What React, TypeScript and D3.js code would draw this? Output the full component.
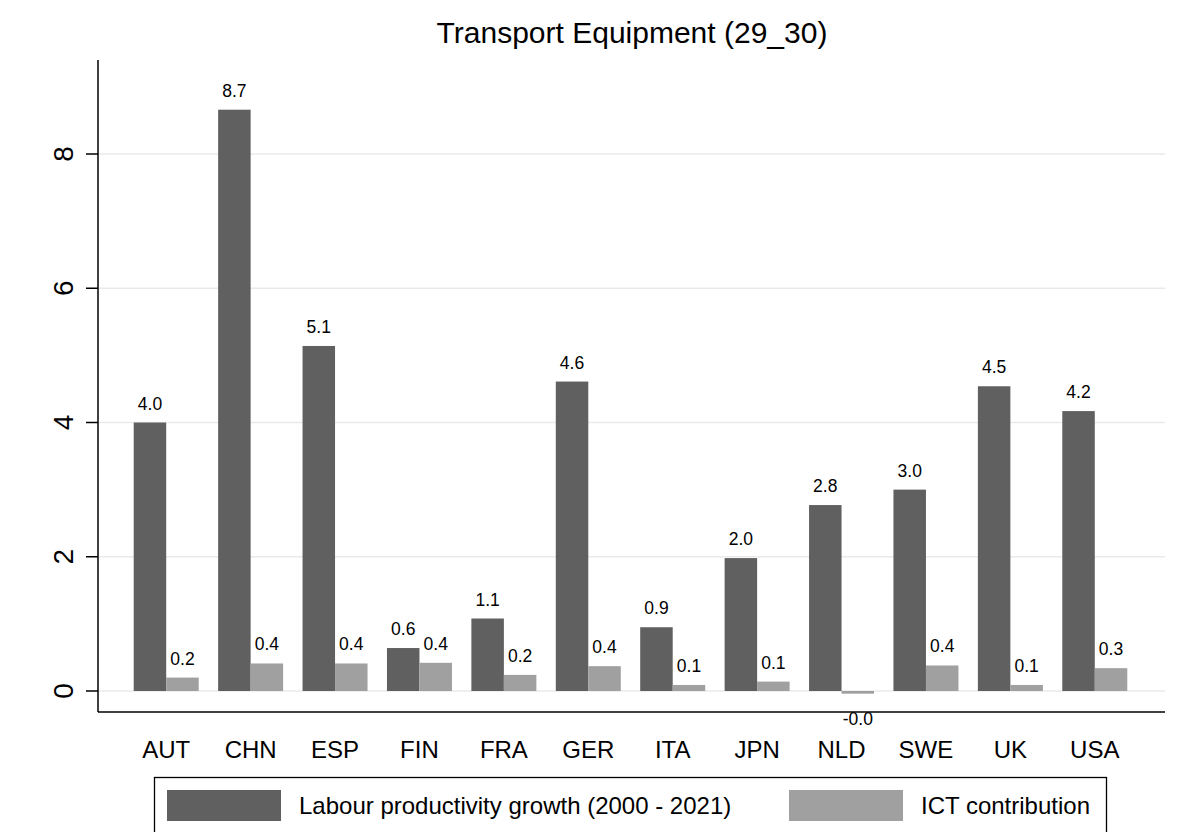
import * as d3 from 'd3';
import React, {useRef, useEffect} from 'react';

const countries = ["AUT", "CHN", "ESP", "FIN", "FRA", "GER", "ITA", "JPN", "NLD", "SWE", "UK", "USA"];
const productivity = [4.0, 8.66, 5.14, 0.64, 1.08, 4.61, 0.95, 1.98, 2.77, 3.0, 4.54, 4.17];
const ictContribution = [0.2, 0.41, 0.41, 0.42, 0.24, 0.37, 0.09, 0.14, -0.04, 0.38, 0.09, 0.34];
const seriesNames = ["Labour productivity growth (2000 - 2021)", "ICT contribution"];
const yTicks = [0, 2, 4, 6, 8];

const W = 1190;
const H = 832;
const colours = ["#606060", "#a0a0a0"];
const FONT = "'Liberation Sans', Arial, sans-serif";

const App = () => {
  const ref = useRef<SVGSVGElement>(null);

  useEffect(() => {
    document.body.style.margin = "0";
    const svg = d3.select(ref.current);
    svg.selectAll("*").remove();

    const left = 98, right = 1165, top = 60, axisY = 712;

    // group positions
    const x = d3.scaleBand()
      .domain(countries)
      .range([124, 1137])
      .paddingInner(0.23)
      .paddingOuter(0.115);
    const xSub = d3.scaleBand()
      .domain(["0", "1"])
      .range([0, x.bandwidth()]);

    const y = d3.scaleLinear()
      .domain([0, 8])
      .range([691, 154]);

    // grid lines
    svg.append("g")
      .selectAll("line")
      .data(yTicks)
      .enter()
      .append("line")
      .attr("x1", left)
      .attr("x2", right)
      .attr("y1", d => y(d))
      .attr("y2", d => y(d))
      .attr("stroke", "#eaeaea")
      .attr("stroke-width", 1.5);

    const rows = countries.map((c, i) => ({c, vals: [productivity[i], ictContribution[i]]}));

    const groups = svg.append("g")
      .selectAll("g")
      .data(rows)
      .enter()
      .append("g")
      .attr("transform", d => `translate(${x(d.c)},0)`);

    groups.selectAll("rect")
      .data(d => d.vals.map((v, k) => ({v, k})))
      .enter()
      .append("rect")
      .attr("x", d => xSub(String(d.k))!)
      .attr("width", xSub.bandwidth())
      .attr("y", d => Math.min(y(d.v), y(0)))
      .attr("height", d => Math.max(Math.abs(y(d.v) - y(0)), 1))
      .attr("fill", d => colours[d.k]);

    groups.selectAll("text")
      .data(d => d.vals.map((v, k) => ({v, k})))
      .enter()
      .append("text")
      .attr("x", d => xSub(String(d.k))! + xSub.bandwidth() / 2)
      .attr("y", d => d.v >= 0 ? y(d.v) - 13 : y(d.v) + 31)
      .attr("text-anchor", "middle")
      .attr("font-family", FONT)
      .attr("font-size", 17.5)
      .text(d => d.v < 0 && d.v > -0.05 ? "-0.0" : d.v.toFixed(1));

    // y axis
    svg.append("line")
      .attr("x1", left).attr("x2", left)
      .attr("y1", top).attr("y2", axisY)
      .attr("stroke", "#000").attr("stroke-width", 1.5);
    svg.append("g")
      .selectAll("line")
      .data(yTicks)
      .enter()
      .append("line")
      .attr("x1", left - 12).attr("x2", left)
      .attr("y1", d => y(d)).attr("y2", d => y(d))
      .attr("stroke", "#000").attr("stroke-width", 1.5);
    svg.append("g")
      .selectAll("text")
      .data(yTicks)
      .enter()
      .append("text")
      .attr("transform", d => `translate(73,${y(d)}) rotate(-90)`)
      .attr("text-anchor", "middle")
      .attr("font-family", FONT)
      .attr("font-size", 28)
      .text(d => d);

    // x axis
    svg.append("line")
      .attr("x1", left).attr("x2", right)
      .attr("y1", axisY).attr("y2", axisY)
      .attr("stroke", "#000").attr("stroke-width", 1.5);
    svg.append("g")
      .selectAll("text")
      .data(countries)
      .enter()
      .append("text")
      .attr("x", d => x(d)! + x.bandwidth() / 2)
      .attr("y", 758)
      .attr("text-anchor", "middle")
      .attr("font-family", FONT)
      .attr("font-size", 24)
      .text(d => d);

    // title
    svg.append("text")
      .attr("x", 632)
      .attr("y", 43)
      .attr("text-anchor", "middle")
      .attr("font-family", FONT)
      .attr("font-size", 30)
      .text("Transport Equipment (29_30)");

    // legend
    svg.append("rect")
      .attr("x", 154.5).attr("y", 777.5)
      .attr("width", 952).attr("height", 60)
      .attr("fill", "none").attr("stroke", "#000").attr("stroke-width", 1.3);
    const legendX = [167, 789];
    seriesNames.forEach((name, k) => {
      svg.append("rect")
        .attr("x", legendX[k]).attr("y", 790)
        .attr("width", 114).attr("height", 31)
        .attr("fill", colours[k]);
      svg.append("text")
        .attr("x", legendX[k] + 132)
        .attr("y", 814)
        .attr("font-family", FONT)
        .attr("font-size", 24)
        .text(name);
    });
  }, []);

  return (
    <svg ref={ref} width={W} height={H} style={{display: "block", background: "#fff"}}>
    </svg>
  );
};

export default App;
